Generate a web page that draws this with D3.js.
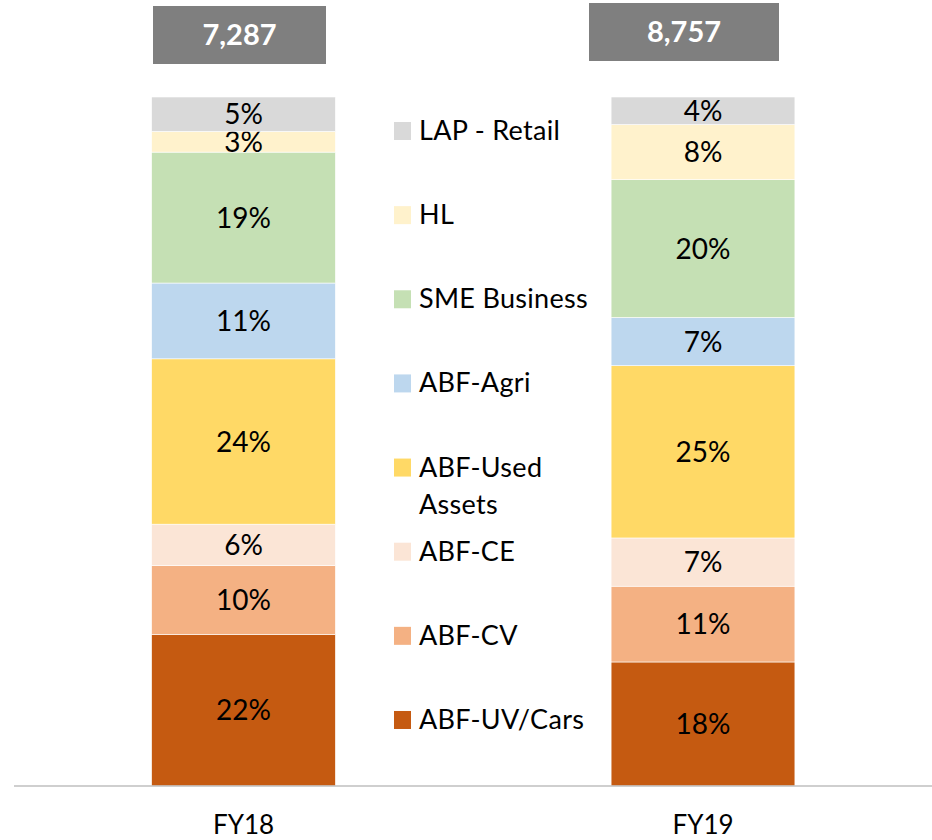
<!DOCTYPE html>
<html>
<head>
<meta charset="utf-8">
<script src="https://cdn.jsdelivr.net/npm/d3@7"></script>
<style>
  html, body { margin: 0; padding: 0; background: #ffffff; }
  svg { display: block; }
</style>
</head>
<body>
<script>
// ---- Data ----
const categories = ["FY18", "FY19"];
const totals = [7287, 8757];
const seriesNames = ["ABF-UV/Cars", "ABF-CV", "ABF-CE", "ABF-Used Assets", "ABF-Agri", "SME Business", "HL", "LAP - Retail"];
const legendLabels = ["ABF-UV/Cars", "ABF-CV", "ABF-CE", "ABF-Used\nAssets", "ABF-Agri", "SME Business", "HL", "LAP - Retail"];
const fy18Values = [22, 10, 6, 24, 11, 19, 3, 5];
const fy19Values = [18, 11, 7, 25, 7, 20, 8, 4];
const seriesColors = ["#c55a11", "#f4b183", "#fbe5d6", "#ffd966", "#bdd7ee", "#c5e0b4", "#fff2cc", "#d9d9d9"];

// ---- Layout ----
const W = 932, H = 840;
const baseY = 786, topY = 97;
const totalBoxes = [{dx: -4, w: 173, y: 6}, {dx: -19, w: 190, y: 3}];
const boxH = 58;

const svg = d3.select("body").append("svg").attr("width", W).attr("height", H);

const rows = categories.map((c, i) => {
  const vals = i === 0 ? fy18Values : fy19Values;
  const r = {category: c};
  seriesNames.forEach((s, j) => r[s] = vals[j]);
  return r;
});

const stack = d3.stack().keys(seriesNames);
const stacked = stack(rows);

const x = d3.scaleBand().domain(categories).range([13.75, 932.75]).paddingInner(0.6).paddingOuter(0.3);
const y = d3.scaleLinear().domain([0, 100]).range([baseY, topY]);
const color = d3.scaleOrdinal().domain(seriesNames).range(seriesColors);

// Bars
const layers = svg.append("g").selectAll("g").data(stacked).join("g")
  .attr("fill", d => color(d.key));
layers.selectAll("rect").data(d => d.map(p => ({p, key: d.key}))).join("rect")
  .attr("x", d => x(d.p.data.category))
  .attr("width", x.bandwidth())
  .attr("y", d => y(d.p[1]))
  .attr("height", d => y(d.p[0]) - y(d.p[1]))
  .attr("stroke", "#ffffff")
  .attr("stroke-width", 0.6);

// Data labels
layers.selectAll("text").data(d => d.map(p => ({p, key: d.key}))).join("text")
  .attr("x", d => x(d.p.data.category) + x.bandwidth() / 2)
  .attr("y", d => (y(d.p[0]) + y(d.p[1])) / 2 + 10)
  .attr("text-anchor", "middle")
  .attr("font-family", "Lato, 'Open Sans', sans-serif")
  .attr("font-size", 28)
  .attr("fill", "#000000")
  .text(d => (d.p[1] - d.p[0]) + "%");

// Axis
const axisG = svg.append("g").attr("transform", `translate(0,${baseY})`)
  .call(d3.axisBottom(x).tickSize(0).tickPadding(30));
axisG.select(".domain").attr("d", "M14,0H932").attr("stroke", "#bfbfbf").attr("stroke-width", 1.5);
axisG.selectAll(".tick text")
  .attr("font-family", "Lato, 'Open Sans', sans-serif")
  .attr("font-size", 26)
  .attr("fill", "#000000");

// Total boxes
const fmt = d3.format(",");
const tg = svg.append("g").selectAll("g").data(categories).join("g");
tg.append("rect")
  .attr("x", (c, i) => x(c) + x.bandwidth() / 2 + totalBoxes[i].dx - totalBoxes[i].w / 2)
  .attr("y", (c, i) => totalBoxes[i].y)
  .attr("width", (c, i) => totalBoxes[i].w)
  .attr("height", boxH)
  .attr("fill", "#7f7f7f");
tg.append("text")
  .attr("x", (c, i) => x(c) + x.bandwidth() / 2 + totalBoxes[i].dx)
  .attr("y", (c, i) => totalBoxes[i].y + boxH / 2 + 10)
  .attr("text-anchor", "middle")
  .attr("font-family", "Lato, 'Open Sans', sans-serif")
  .attr("font-weight", "bold")
  .attr("font-size", 29)
  .attr("fill", "#ffffff")
  .text((c, i) => fmt(totals[i]));

// Legend (top-to-bottom reverse of stack order)
const legendOrder = seriesNames.map((s, j) => j).reverse();
const lg = svg.append("g").selectAll("g").data(legendOrder).join("g")
  .attr("transform", (j, k) => `translate(394,${140 + k * 84.14})`);
lg.append("rect")
  .attr("x", 0).attr("y", -18).attr("width", 17).attr("height", 18)
  .attr("fill", j => seriesColors[j]);
const lt = lg.append("text")
  .attr("x", 25).attr("y", 0)
  .attr("font-family", "Lato, 'Open Sans', sans-serif")
  .attr("font-size", 27)
  .attr("letter-spacing", 0.3)
  .attr("fill", "#000000");
lt.selectAll("tspan").data(j => legendLabels[j].split("\n")).join("tspan")
  .attr("x", 25)
  .attr("dy", (d, i) => i === 0 ? 0 : 37)
  .text(d => d);
</script>
</body>
</html>
